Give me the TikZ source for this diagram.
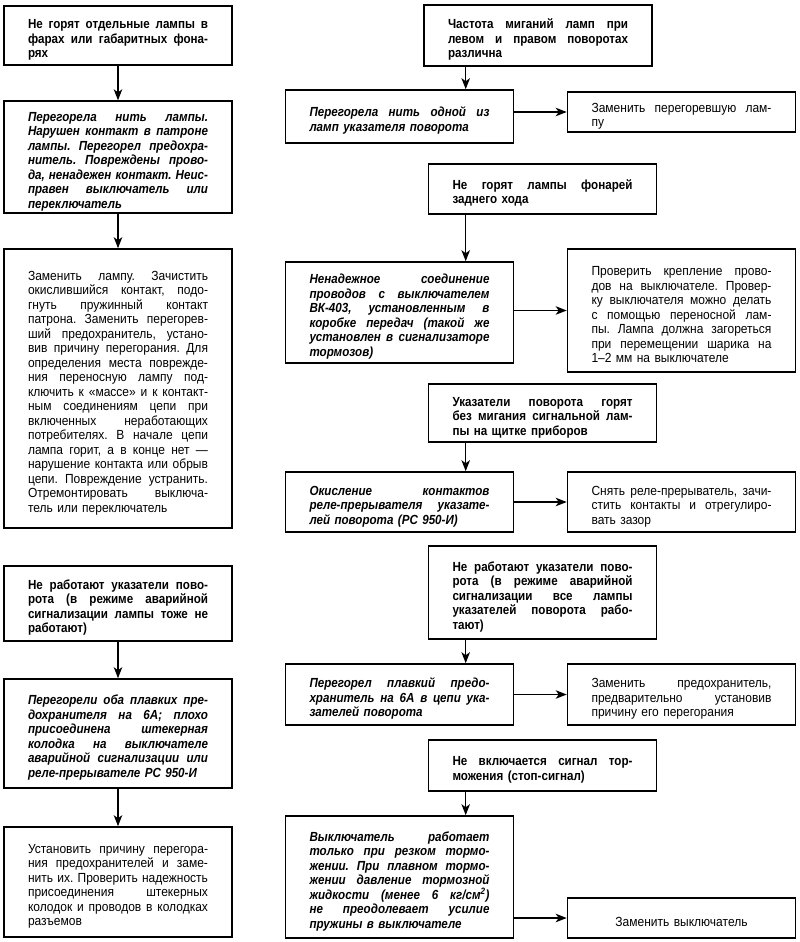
\documentclass[tikz,border=0pt]{standalone}
\usepackage{fontspec}
\setmainfont{Liberation Sans}[UprightFeatures={FakeStretch=0.91}, ItalicFeatures={FakeStretch=0.91}, BoldFeatures={FakeStretch=0.88}, BoldItalicFeatures={FakeStretch=0.88}]
\usetikzlibrary{arrows.meta}
\setlength\parskip{0pt}
\lineskiplimit=-30pt
\lineskip=0pt
\newcommand\jln[1]{\noindent\hbox to 180pt{\frenchspacing\spaceskip=0.27em plus 1fil minus 0.06em\relax #1}\par}
\newcommand\lln[1]{\noindent\hbox{\frenchspacing #1}\par}
\newcommand\cln[1]{\noindent\hbox to 180pt{\hfil #1\hfil}\par}
\newcommand\bxfont{\fontsize{13.2pt}{14.5pt}\selectfont\lineskiplimit=-30pt\lineskip=0pt}
\tikzset{
  fbox/.style={draw=black, line width=1.6pt, text width=180pt, inner xsep=24pt, inner ysep=2pt,
    font=\bxfont, execute at begin node={\par\vskip3.5pt\relax}},
  prob/.style={fbox, font=\bxfont\bfseries},
  cause/.style={fbox, font=\bxfont\bfseries\itshape},
  fix/.style={fbox},
  arr/.style={line width=1.4pt, -{Stealth[length=11pt,width=8.5pt,inset=3pt]}}
}
\begin{document}
\begin{tikzpicture}[x=1pt,y=-1pt]
\fill[white] (0,0) rectangle (800,942);
\useasboundingbox (0,0) rectangle (800,942);

% left column
\node[prob, minimum height=59pt] (L1) at (118,35.5) {\jln{Не горят отдельные лампы в}\jln{фарах или габаритных фона-}\lln{рях}};
\node[cause, minimum height=110pt] (L2) at (118,157) {\jln{Перегорела нить лампы.}\jln{Нарушен контакт в патроне}\jln{лампы. Перегорел предохра-}\jln{нитель. Повреждены прово-}\jln{да, ненадежен контакт. Неис-}\jln{правен выключатель или}\lln{переключатель}};
\node[fix, minimum height=279pt] (L3) at (118,388.5) {\jln{Заменить лампу. Зачистить}\jln{окислившийся контакт, подо-}\jln{гнуть пружинный контакт}\jln{патрона. Заменить перегорев-}\jln{ший предохранитель, устано-}\jln{вив причину перегорания. Для}\jln{определения места поврежде-}\jln{ния переносную лампу под-}\jln{ключить к «массе» и к контакт-}\jln{ным соединениям цепи при}\jln{включенных неработающих}\jln{потребителях. В начале цепи}\jln{лампа горит, а в конце нет —}\jln{нарушение контакта или обрыв}\jln{цепи. Повреждение устранить.}\jln{Отремонтировать выключа-}\lln{тель или переключатель}};
\node[prob, minimum height=75pt] (L4) at (118,603.5) {\jln{Не работают указатели пово-}\jln{рота (в режиме аварийной}\jln{сигнализации лампы тоже не}\lln{работают)}};
\node[cause, minimum height=109pt] (L5) at (118,733.5) {\jln{Перегорели оба плавких пре-}\jln{дохранителя на 6А; плохо}\jln{присоединена штекерная}\jln{колодка на выключателе}\jln{аварийной сигнализации или}\lln{реле-прерывателе РС 950-И}};
\node[fix, minimum height=110pt] (L6) at (118,882) {\jln{Установить причину перегора-}\jln{ния предохранителей и заме-}\jln{нить их. Проверить надежность}\jln{присоединения штекерных}\jln{колодок и проводов в колодках}\lln{разъемов}};

% right column
\node[prob, minimum height=61pt] (R1) at (538,35.5) {\jln{Частота миганий ламп при}\jln{левом и правом поворотах}\lln{различна}};
\node[cause, minimum height=53pt] (R2) at (399.5,116.5) {\jln{Перегорела нить одной из}\lln{ламп указателя поворота}};
\node[fix, minimum height=40pt] (R3) at (681.5,112) {\jln{Заменить перегоревшую лам-}\lln{пу}};

\node[prob, minimum height=50pt] (R4) at (542.5,189) {\jln{Не горят лампы фонарей}\lln{заднего хода}};
\node[cause, minimum height=101pt] (R5) at (399.5,312.5) {\jln{Ненадежное соединение}\jln{проводов с выключателем}\jln{ВК-403, установленным в}\jln{коробке передач (такой же}\jln{установлен в сигнализаторе}\lln{тормозов)}};
\node[fix, minimum height=123pt] (R6) at (681.5,310.5) {\jln{Проверить крепление прово-}\jln{дов на выключателе. Провер-}\jln{ку выключателя можно делать}\jln{с помощью переносной лам-}\jln{пы. Лампа должна загореться}\jln{при перемещении шарика на}\lln{1–2 мм на выключателе}};

\node[prob, minimum height=58pt] (R7) at (542.5,413) {\jln{Указатели поворота горят}\jln{без мигания сигнальной лам-}\lln{пы на щитке приборов}};
\node[cause, minimum height=60pt] (R8) at (399.5,502) {\jln{Окисление контактов}\jln{реле-прерывателя указате-}\lln{лей поворота (РС 950-И)}};
\node[fix, minimum height=60pt] (R9) at (681.5,502) {\jln{Снять реле-прерыватель, зачи-}\jln{стить контакты и отрегулиро-}\lln{вать зазор}};

\node[prob, minimum height=93pt] (R10) at (542.5,592.5) {\jln{Не работают указатели пово-}\jln{рота (в режиме аварийной}\jln{сигнализации все лампы}\jln{указателей поворота рабо-}\lln{тают)}};
\node[cause, minimum height=61pt] (R11) at (399.5,694.5) {\jln{Перегорел плавкий предо-}\jln{хранитель на 6А в цепи ука-}\lln{зателей поворота}};
\node[fix, minimum height=61pt] (R12) at (681.5,694.5) {\jln{Заменить предохранитель,}\jln{предварительно установив}\lln{причину его перегорания}};

\node[prob, minimum height=51pt] (R13) at (542.5,765.5) {\jln{Не включается сигнал тор-}\lln{можения (стоп-сигнал)}};
\node[cause, minimum height=122pt] (R14) at (399.5,877) {\jln{Выключатель работает}\jln{только при резком тормо-}\jln{жении. При плавном тормо-}\jln{жении давление тормозной}\jln{жидкости (менее 6 кг/см\textsuperscript{2})}\jln{не преодолевает усилие}\lln{пружины в выключателе}};
\node[fix, minimum height=40pt] (R15) at (681.5,918) {\cln{Заменить выключатель}};

% arrows left
\draw[arr] (L1.south) -- (L2.north);
\draw[arr] (L2.south) -- (L3.north);
\draw[arr] (L4.south) -- (L5.north);
\draw[arr] (L5.south) -- (L6.north);

% arrows right vertical
\coordinate (a1) at ([xshift=181pt]R2.north west);
\coordinate (a2) at ([xshift=181pt]R5.north west);
\coordinate (a3) at ([xshift=181pt]R8.north west);
\coordinate (a4) at ([xshift=181pt]R11.north west);
\coordinate (a5) at ([xshift=181pt]R14.north west);
\draw[arr] (a1 |- R1.south) -- (a1);
\draw[arr] (a2 |- R4.south) -- (a2);
\draw[arr] (a3 |- R7.south) -- (a3);
\draw[arr] (a4 |- R10.south) -- (a4);
\draw[arr] (a5 |- R13.south) -- (a5);

% arrows right horizontal
\draw[arr] (R3.west -| R2.east) -- (R3.west);
\draw[arr] (R6.west -| R5.east) -- (R6.west);
\draw[arr] (R9.west -| R8.east) -- (R9.west);
\draw[arr] (R12.west -| R11.east) -- (R12.west);
\draw[arr] (R15.west -| R14.east) -- (R15.west);
\end{tikzpicture}
\end{document}
